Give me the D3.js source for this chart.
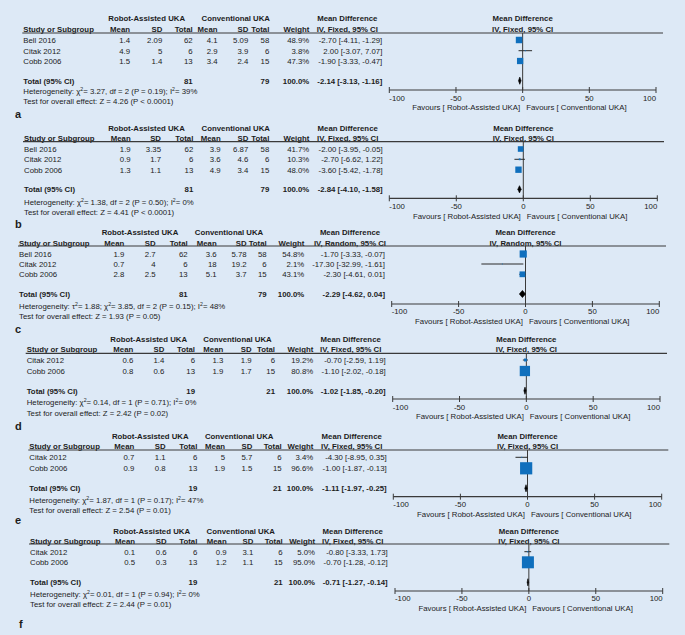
<!DOCTYPE html>
<html><head><meta charset="utf-8">
<script src="https://cdn.jsdelivr.net/npm/d3@7"></script>
<style>
body{margin:0;background:#dde9f6;}
svg{display:block;}
text{font-family:"Liberation Sans",Arial,sans-serif;fill:#1c1c1c;}
</style>
</head><body>
<svg id="chart" width="685" height="635"></svg>
<script>
// ---------------- DATA ----------------
const panelLetters = ["a","b","c","d","e","f"];
const methods = ["IV, Fixed, 95% CI","IV, Fixed, 95% CI","IV, Random, 95% CI","IV, Fixed, 95% CI","IV, Fixed, 95% CI","IV, Fixed, 95% CI"];
const groupNames = ["Robot-Assisted UKA","Conventional UKA"];
const studyNames = [
  ["Bell 2016","Citak 2012","Cobb 2006"],
  ["Bell 2016","Citak 2012","Cobb 2006"],
  ["Bell 2016","Citak 2012","Cobb 2006"],
  ["Citak 2012","Cobb 2006"],
  ["Citak 2012","Cobb 2006"],
  ["Citak 2012","Cobb 2006"]
];
const robotMean = [[1.4,4.9,1.5],[1.9,0.9,1.3],[1.9,0.7,2.8],[0.6,0.8],[0.7,0.9],[0.1,0.5]];
const robotSD   = [[2.09,5,1.4],[3.35,1.7,1.1],[2.7,4,2.5],[1.4,0.6],[1.1,0.8],[0.6,0.3]];
const robotN    = [[62,6,13],[62,6,13],[62,6,13],[6,13],[6,13],[6,13]];
const convMean  = [[4.1,2.9,3.4],[3.9,3.6,4.9],[3.6,18,5.1],[1.3,1.9],[5,1.9],[0.9,1.2]];
const convSD    = [[5.09,3.9,2.4],[6.87,4.6,3.4],[5.78,19.2,3.7],[1.9,1.7],[5.7,1.5],[3.1,1.1]];
const convN     = [[58,6,15],[58,6,15],[58,6,15],[6,15],[6,15],[6,15]];
const weights   = [[48.9,3.8,47.3],[41.7,10.3,48.0],[54.8,2.1,43.1],[19.2,80.8],[3.4,96.6],[5.0,95.0]];
const mdEst     = [[-2.70,2.00,-1.90],[-2.00,-2.70,-3.60],[-1.70,-17.30,-2.30],[-0.70,-1.10],[-4.30,-1.00],[-0.80,-0.70]];
const mdLow     = [[-4.11,-3.07,-3.33],[-3.95,-6.62,-5.42],[-3.33,-32.99,-4.61],[-2.59,-2.02],[-8.95,-1.87],[-3.33,-1.28]];
const mdHigh    = [[-1.29,7.07,-0.47],[-0.05,1.22,-1.78],[-0.07,-1.61,0.01],[1.19,-0.18],[0.35,-0.13],[1.73,-0.12]];
const totalRobotN = [81,81,81,19,19,19];
const totalConvN  = [79,79,79,21,21,21];
const totalEst  = [-2.14,-2.84,-2.29,-1.02,-1.11,-0.71];
const totalLow  = [-3.13,-4.10,-4.62,-1.85,-1.97,-1.27];
const totalHigh = [-1.16,-1.58,0.04,-0.20,-0.25,-0.14];
const tau2   = [null,null,"1.88",null,null,null];
const chi2   = ["3.27","1.38","3.85","0.14","1.87","0.01"];
const hetDf  = [2,2,2,1,1,1];
const hetP   = ["0.19","0.50","0.15","0.71","0.17","0.94"];
const i2     = [39,0,48,0,47,0];
const zValue = ["4.26","4.41","1.93","2.42","2.54","2.44"];
const zP     = ["P < 0.0001","P < 0.0001","P = 0.05","P = 0.02","P = 0.01","P = 0.01"];
const axisTicks = [-100,-50,0,50,100];
const axisTickLabels = ["-100","-50","0","50","100"];
const favoursLabels = ["Favours [ Robot-Assisted UKA]","Favours [ Conventional UKA]"];

// ---------------- LAYOUT (positions per panel) ----------------
const L = [
 {h1:18.3,h2:29.5,line:33,rows:[40,50.7,61],total:80.7,het:90.7,test:101,axisY:90,tickY:98.3,favY:106.7,ax:[389.3,656],lineR:663,sx:23.3,
  cols:[130,162.3,192.7,217.5,248.3,269.3,309.3,382.3],grp:[146.7,235.8],lab:[15,117.5]},
 {h1:127.7,h2:138.3,line:141.7,rows:[149,159.3,169.7],total:189.3,het:202.3,test:212.3,axisY:198.3,tickY:206,favY:215.7,ax:[389.3,657.3],lineR:664,sx:24,
  cols:[130.7,161,193.3,220.7,248.3,269.3,309.3,382.7],grp:[146.5,235.8],lab:[15,227.5]},
 {h1:232.3,h2:242.7,line:246,rows:[254,264,274.3],total:294,het:305.7,test:315.7,axisY:304,tickY:310.7,favY:320.7,ax:[391.7,659.3],lineR:666,sx:19,
  cols:[124.3,155.7,187.7,216.7,246.7,266.7,304.3,385],grp:[140,229],lab:[15,332.5]},
 {h1:339,h2:349.3,line:353.3,rows:[360,371],total:390.7,het:402.3,test:412.7,axisY:399,tickY:407.3,favY:415.7,ax:[392.7,660],lineR:667,sx:26.7,
  cols:[133.3,164.3,195,223.3,251.7,275,313.3,385.7],grp:[148.7,237.5],lab:[15,429.5]},
 {h1:436,h2:446.3,line:450,rows:[457.3,468.3],total:488.3,het:500,test:510,axisY:496.7,tickY:504.3,favY:514.3,ax:[393.3,661.7],lineR:668.3,sx:29.3,
  cols:[134.3,165.7,197.3,225,252.3,281.7,313.3,386.7],grp:[150.3,239.2],lab:[15,523.5]},
 {h1:530.7,h2:540.7,line:544,rows:[551.7,562.3],total:582.3,het:594,test:604.3,axisY:591,tickY:598.3,favY:608.3,ax:[395,662.7],lineR:669.3,sx:30,
  cols:[135,166.7,197.3,226.7,253.3,282.7,315,387.7],grp:[151.7,240.8],lab:[19,627.5]}
];

const FS = 7.8;        // font size
const BASE = 2.8;      // centre -> baseline offset
const BLUE = "#0f6fbd";

const svg = d3.select("#chart");
svg.append("rect").attr("width",685).attr("height",635).attr("fill","#dde9f6");

const sizeScale = d3.scaleLinear().domain([0,100]).range([0.6,12.6]);

function txt(g, x, y, s, anchor, bold, size){
  return g.append("text").attr("x",x).attr("y",y+BASE)
    .attr("text-anchor",anchor||"start")
    .attr("font-size",size||FS)
    .attr("font-weight",bold?"bold":"normal")
    .text(s);
}
function fmt2(v){ return v.toFixed(2); }
function ciText(e,l,h){ return fmt2(e)+" ["+fmt2(l)+", "+fmt2(h)+"]"; }

function supText(g, x, y, parts){
  const t = g.append("text").attr("x",x).attr("y",y+BASE).attr("font-size",FS);
  let pending = 0;
  parts.forEach(p=>{
    if (p.sup){
      t.append("tspan").attr("font-size",5.2).attr("dy",-3).text(p.s);
      pending = 3;
    } else {
      const ts = t.append("tspan").text(p.s);
      if (pending){ ts.attr("dy",pending); pending = 0; }
    }
  });
  return t;
}

panelLetters.forEach((letter, p) => {
  const lay = L[p];
  const g = svg.append("g");
  const x = d3.scaleLinear().domain([-100,100]).range(lay.ax);
  const ciCenter = lay.cols[7] - 35;

  txt(g, lay.grp[0], lay.h1, groupNames[0], "middle", true);
  txt(g, lay.grp[1], lay.h1, groupNames[1], "middle", true);
  txt(g, ciCenter, lay.h1, "Mean Difference", "middle", true);
  txt(g, x(0), lay.h1, "Mean Difference", "middle", true);

  txt(g, lay.sx, lay.h2, "Study or Subgroup", "start", true);
  ["Mean","SD","Total","Mean","SD","Total","Weight"].forEach((h,i)=>txt(g, lay.cols[i], lay.h2, h, "end", true));
  txt(g, ciCenter, lay.h2, methods[p], "middle", true);
  txt(g, x(0), lay.h2, methods[p], "middle", true);

  g.append("line").attr("x1",lay.sx-1).attr("x2",lay.lineR)
    .attr("y1",lay.line).attr("y2",lay.line)
    .attr("stroke","#3a3a3a").attr("stroke-width",1.2);

  g.append("line").attr("x1",x(0)).attr("x2",x(0))
    .attr("y1",lay.line).attr("y2",lay.axisY)
    .attr("stroke","#3a3a3a").attr("stroke-width",1);

  studyNames[p].forEach((name,i)=>{
    const y = lay.rows[i];
    txt(g, lay.sx, y, name, "start", false);
    const vals = [String(robotMean[p][i]), String(robotSD[p][i]), String(robotN[p][i]),
                  String(convMean[p][i]), String(convSD[p][i]), String(convN[p][i]),
                  weights[p][i].toFixed(1)+"%", ciText(mdEst[p][i], mdLow[p][i], mdHigh[p][i])];
    vals.forEach((v,k)=>txt(g, lay.cols[k], y, v, "end", false));

    g.append("line").attr("x1",x(mdLow[p][i])).attr("x2",x(mdHigh[p][i]))
      .attr("y1",y).attr("y2",y).attr("stroke","#2a2a2a").attr("stroke-width",1);
    const s = sizeScale(weights[p][i]);
    g.append("rect").attr("x",x(mdEst[p][i])-s/2).attr("y",y-s/2)
      .attr("width",s).attr("height",s).attr("fill",BLUE);
  });

  const ty = lay.total;
  txt(g, lay.sx, ty, "Total (95% CI)", "start", true);
  txt(g, lay.cols[2], ty, String(totalRobotN[p]), "end", true);
  txt(g, lay.cols[5], ty, String(totalConvN[p]), "end", true);
  txt(g, lay.cols[6], ty, "100.0%", "end", true);
  txt(g, lay.cols[7], ty, ciText(totalEst[p], totalLow[p], totalHigh[p]), "end", true);

  const dh = 3.6;
  g.append("polygon")
    .attr("points", [[x(totalLow[p]),ty],[x(totalEst[p]),ty-dh],[x(totalHigh[p]),ty],[x(totalEst[p]),ty+dh]].map(d=>d.join(",")).join(" "))
    .attr("fill","#000").attr("stroke","#000").attr("stroke-width",0.6);

  let parts = [{s:"Heterogeneity: "}];
  if (tau2[p]!==null){ parts.push({s:"τ"},{s:"2",sup:true},{s:"= "+tau2[p]+"; "}); }
  parts.push({s:"χ"},{s:"2",sup:true},{s:"= "+chi2[p]+", df = "+hetDf[p]+" (P = "+hetP[p]+"); I"},{s:"2",sup:true},{s:"= "+i2[p]+"%"});
  supText(g, lay.sx, lay.het, parts);
  txt(g, lay.sx, lay.test, "Test for overall effect: Z = "+zValue[p]+" ("+zP[p]+")", "start", false);

  const ay = lay.axisY;
  g.append("line").attr("x1",x(-100)).attr("x2",x(100)).attr("y1",ay).attr("y2",ay)
    .attr("stroke","#3a3a3a").attr("stroke-width",1.2);
  axisTicks.forEach((t,k)=>{
    g.append("line").attr("x1",x(t)).attr("x2",x(t)).attr("y1",ay-3).attr("y2",ay+3)
      .attr("stroke","#3a3a3a").attr("stroke-width",1);
    const anchor = k===0 ? "start" : (k===axisTicks.length-1 ? "end" : "middle");
    txt(g, x(t), lay.tickY, axisTickLabels[k], anchor, false);
  });
  txt(g, x(0)-2.5, lay.favY, favoursLabels[0], "end", false);
  txt(g, x(0)+3.5, lay.favY, favoursLabels[1], "start", false);

  g.append("text").attr("x",lay.lab[0]).attr("y",lay.lab[1])
    .attr("font-size",11).attr("font-weight","bold").text(letter);
});
</script>
</body></html>
